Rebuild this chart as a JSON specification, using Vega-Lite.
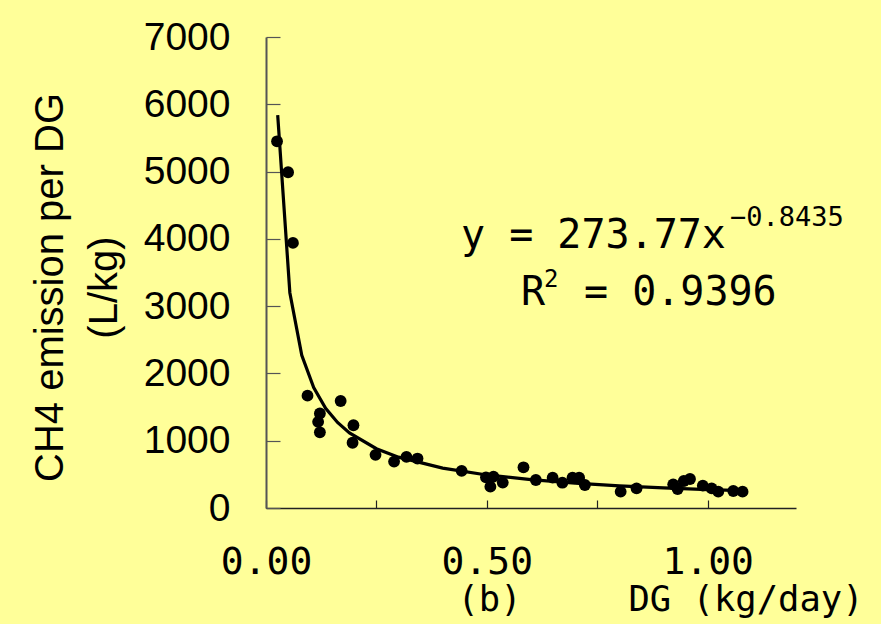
{
  "$schema": "https://vega.github.io/schema/vega-lite/v6.json",
  "width": 530,
  "height": 471,
  "autosize": {"type": "none"},
  "padding": {"left": 266, "top": 37, "right": 85, "bottom": 116},
  "background": "#FFFF99",
  "config": {"view": {"stroke": null}},
  "datasets": {
    "obs": [
      {"dg": 0.025, "ch4": 5450}, {"dg": 0.050, "ch4": 4990}, {"dg": 0.061, "ch4": 3940},
      {"dg": 0.094, "ch4": 1670}, {"dg": 0.122, "ch4": 1405}, {"dg": 0.118, "ch4": 1280},
      {"dg": 0.122, "ch4": 1125}, {"dg": 0.169, "ch4": 1590}, {"dg": 0.198, "ch4": 1230},
      {"dg": 0.196, "ch4": 970}, {"dg": 0.248, "ch4": 790}, {"dg": 0.290, "ch4": 690},
      {"dg": 0.318, "ch4": 760}, {"dg": 0.343, "ch4": 735}, {"dg": 0.443, "ch4": 552},
      {"dg": 0.498, "ch4": 456}, {"dg": 0.515, "ch4": 466}, {"dg": 0.508, "ch4": 317},
      {"dg": 0.536, "ch4": 378}, {"dg": 0.583, "ch4": 605}, {"dg": 0.611, "ch4": 416},
      {"dg": 0.649, "ch4": 451}, {"dg": 0.671, "ch4": 376}, {"dg": 0.694, "ch4": 451},
      {"dg": 0.709, "ch4": 451}, {"dg": 0.722, "ch4": 342}, {"dg": 0.803, "ch4": 243},
      {"dg": 0.839, "ch4": 292}, {"dg": 0.922, "ch4": 352}, {"dg": 0.932, "ch4": 282},
      {"dg": 0.946, "ch4": 401}, {"dg": 0.960, "ch4": 431}, {"dg": 0.989, "ch4": 332},
      {"dg": 1.009, "ch4": 292}, {"dg": 1.024, "ch4": 243}, {"dg": 1.058, "ch4": 253},
      {"dg": 1.079, "ch4": 243}
    ],
    "fit": [
      {"dg": 0.0265, "ch4": 5840}, {"dg": 0.054, "ch4": 3200}, {"dg": 0.081, "ch4": 2270},
      {"dg": 0.108, "ch4": 1790}, {"dg": 0.135, "ch4": 1482}, {"dg": 0.162, "ch4": 1271},
      {"dg": 0.189, "ch4": 1116}, {"dg": 0.25, "ch4": 881}, {"dg": 0.3, "ch4": 756},
      {"dg": 0.4, "ch4": 593}, {"dg": 0.5, "ch4": 491}, {"dg": 0.6, "ch4": 421},
      {"dg": 0.7, "ch4": 370}, {"dg": 0.8, "ch4": 330}, {"dg": 0.9, "ch4": 299},
      {"dg": 1.0, "ch4": 274}, {"dg": 1.08, "ch4": 257}
    ]
  },
  "layer": [
    {
      "data": {"name": "obs"},
      "mark": {"type": "circle", "size": 140, "opacity": 1, "color": "#000000"},
      "encoding": {
        "x": {
          "field": "dg", "type": "quantitative",
          "scale": {"domain": [0, 1.2], "nice": false, "zero": false},
          "axis": {
            "title": "(b)\u00a0\u00a0\u00a0\u00a0\u00a0DG (kg/day)",
            "titleFont": "DejaVu Sans Mono", "titleFontSize": 35.5, "titleFontWeight": "normal",
            "titleColor": "#000000", "titleAlign": "left", "titleBaseline": "alphabetic",
            "titleX": 191, "titleY": 102, "titleAnchor": null,
            "values": [0, 0.25, 0.5, 0.75, 1.0],
            "labelExpr": "(datum.value == 0.25 || datum.value == 0.75) ? '' : format(datum.value, '.2f')",
            "labelFont": "DejaVu Sans Mono", "labelFontSize": 38, "labelColor": "#000000",
            "labelPadding": 43, "tickSize": -8, "tickColor": "#222222", "tickWidth": 1.2,
            "domainColor": "#222222", "domainWidth": 1.5, "grid": false, "labelOverlap": false,
            "labelFlush": false
          }
        },
        "y": {
          "field": "ch4", "type": "quantitative",
          "scale": {"domain": [0, 7000], "nice": false},
          "axis": {
            "title": ["CH4 emission per DG", "(L/kg)"],
            "titleFont": "Liberation Sans", "titleFontSize": 40, "titleFontWeight": "normal",
            "titleColor": "#000000", "titleAngle": -90, "titleAlign": "center",
            "titleBaseline": "alphabetic", "titleLineHeight": 54,
            "titleX": -204, "titleY": 250, "titleAnchor": null,
            "values": [0, 1000, 2000, 3000, 4000, 5000, 6000, 7000],
            "format": "d",
            "labelFont": "Liberation Sans", "labelFontSize": 39, "labelColor": "#000000",
            "labelPadding": 50, "tickSize": -14, "tickColor": "#555555", "tickWidth": 1.2,
            "domainColor": "#555555", "domainWidth": 2, "grid": false, "labelOverlap": false,
            "labelFlush": false
          }
        }
      }
    },
    {
      "data": {"name": "fit"},
      "mark": {"type": "line", "color": "#000000", "strokeWidth": 3.2, "interpolate": "linear"},
      "encoding": {
        "x": {"field": "dg", "type": "quantitative"},
        "y": {"field": "ch4", "type": "quantitative"}
      }
    },
    {
      "data": {"values": [{}]},
      "mark": {"type": "text", "text": "y = 273.77x", "font": "DejaVu Sans Mono", "fontSize": 40, "align": "left", "baseline": "alphabetic", "color": "#000000"},
      "encoding": {"x": {"datum": 0.4415}, "y": {"datum": 3864}}
    },
    {
      "data": {"values": [{}]},
      "mark": {"type": "text", "text": "\u22120.8435", "font": "DejaVu Sans Mono", "fontSize": 27, "align": "left", "baseline": "alphabetic", "color": "#000000"},
      "encoding": {"x": {"datum": 1.0506}, "y": {"datum": 4191}}
    },
    {
      "data": {"values": [{}]},
      "mark": {"type": "text", "text": "R", "font": "DejaVu Sans Mono", "fontSize": 40, "align": "left", "baseline": "alphabetic", "color": "#000000"},
      "encoding": {"x": {"datum": 0.5773}, "y": {"datum": 3017}}
    },
    {
      "data": {"values": [{}]},
      "mark": {"type": "text", "text": "2", "font": "DejaVu Sans Mono", "fontSize": 24, "align": "left", "baseline": "alphabetic", "color": "#000000"},
      "encoding": {"x": {"datum": 0.6294}, "y": {"datum": 3284}}
    },
    {
      "data": {"values": [{}]},
      "mark": {"type": "text", "text": "= 0.9396", "font": "DejaVu Sans Mono", "fontSize": 40, "align": "left", "baseline": "alphabetic", "color": "#000000"},
      "encoding": {"x": {"datum": 0.72}, "y": {"datum": 3017}}
    }
  ]
}
